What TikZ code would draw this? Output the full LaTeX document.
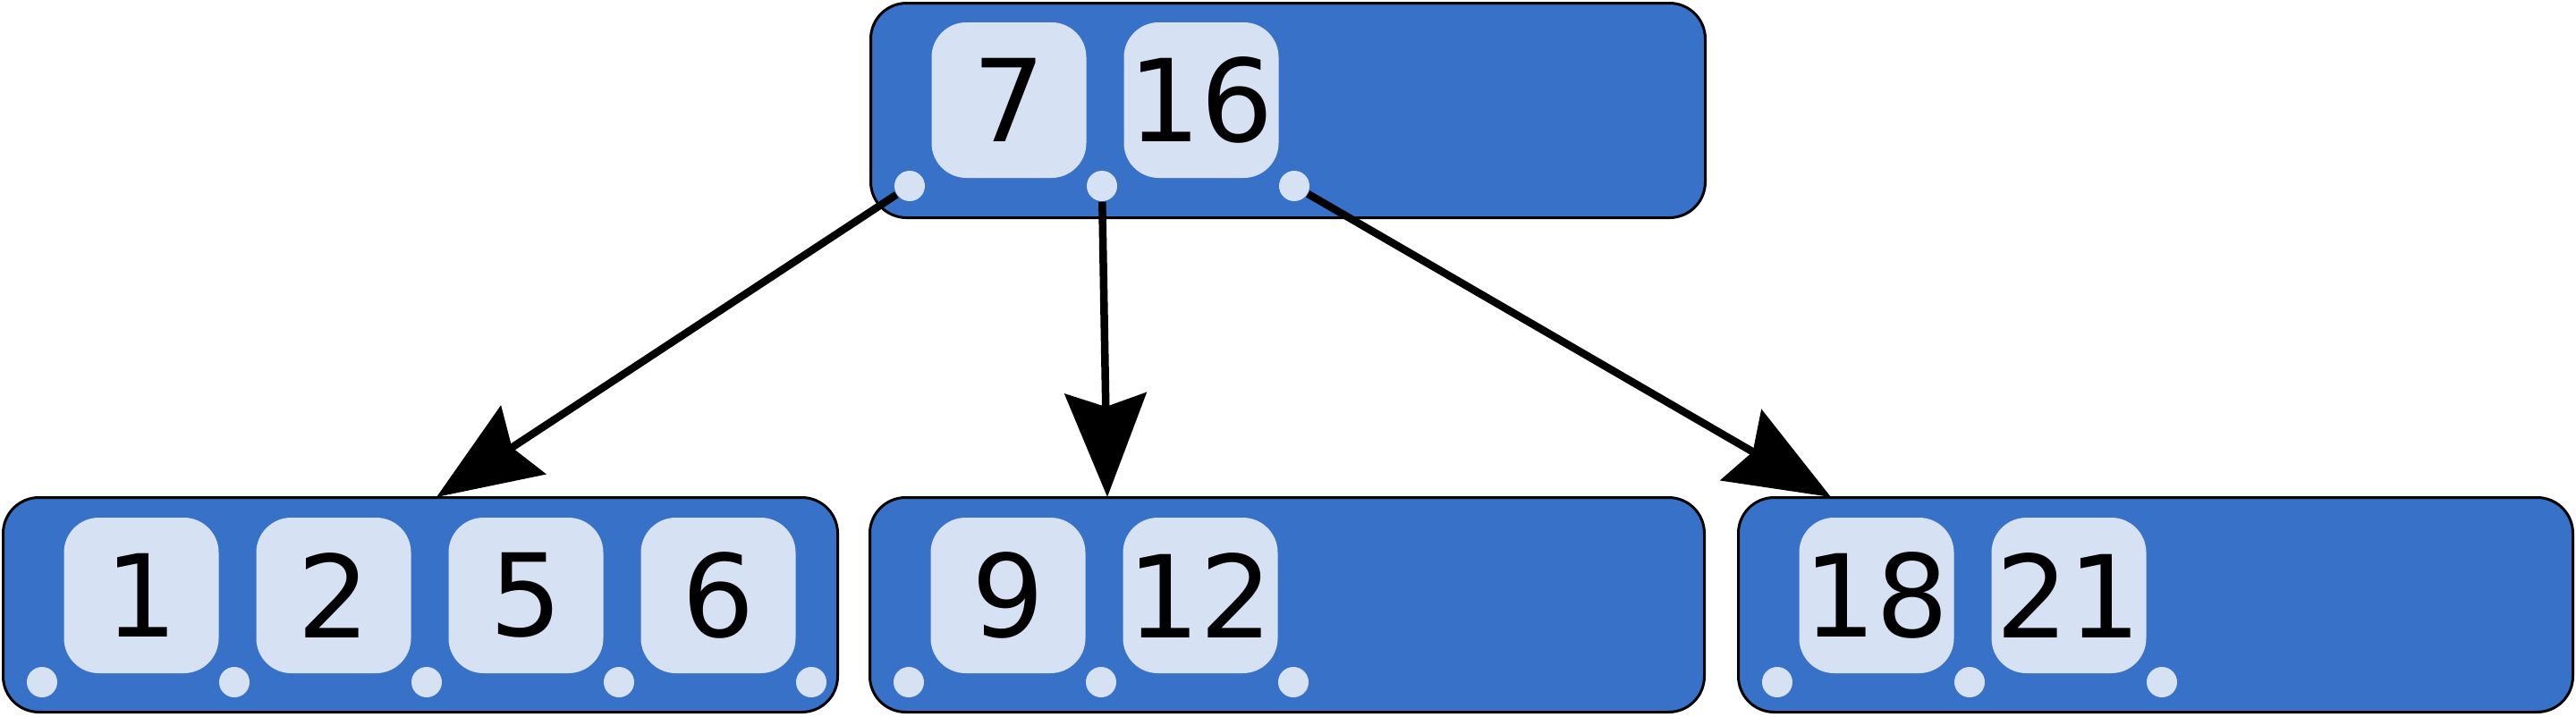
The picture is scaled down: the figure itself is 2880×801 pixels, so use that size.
\documentclass[tikz,border=0pt]{standalone}
\usepackage{fontspec}
\setmainfont{DejaVu Sans}
\usepackage{tikz}
\usetikzlibrary{arrows.meta}

\definecolor{nodeblue}{RGB}{56,114,200}
\definecolor{keyfill}{RGB}{214,225,243}

\tikzset{
  bnode/.style={draw=black, line width=0.3mm, fill=nodeblue, rounded corners=4mm,
                minimum width=93.3mm, minimum height=24mm, inner sep=0pt},
  keybox/.style={fill=keyfill, rounded corners=3.9mm, minimum width=17.3mm,
                 minimum height=17.4mm, inner sep=0pt,
                 font=\fontsize{36.4pt}{40pt}\selectfont},
  ptr/.style={circle, fill=keyfill, minimum size=3.4mm, inner sep=0pt},
  link/.style={-{Stealth[length=11.6mm, width=9.1mm, inset=1.5mm]}, line width=0.85mm}
}

\begin{document}
\begin{tikzpicture}[x=0.1mm, y=-0.1mm]
\useasboundingbox (0,0) rectangle (2880,801);

%% tree nodes
\node[bnode] (root) at (1440,123.5) {};   %% 7 16
\node[bnode] (leafA) at (470,676.5) {};   %% 1 2 5 6
\node[bnode] (leafB) at (1439,676.5) {};  %% 9 12
\node[bnode] (leafC) at (2410,676.5) {};  %% 18 21

%% keys
\node[keybox] (k7) at (1128,112) {7};
\node[keybox] (k16) at (1343,112) {16};
\node[keybox] (k1) at (158,666) {1};
\node[keybox] (k2) at (373,666) {2};
\node[keybox] (k5) at (588,666) {5};
\node[keybox] (k6) at (803,666) {6};
\node[keybox] (k9) at (1127,666) {9};
\node[keybox] (k12) at (1342,666) {12};
\node[keybox] (k18) at (2098,666) {18};
\node[keybox] (k21) at (2313,666) {21};

%% child pointers
\node[ptr] (r0) at (1017,208) {};
\node[ptr] (r1) at (1232,208) {};
\node[ptr] (r2) at (1447,208) {};
\node[ptr] (a0) at (47,763) {};
\node[ptr] (a1) at (262,763) {};
\node[ptr] (a2) at (477,763) {};
\node[ptr] (a3) at (692,763) {};
\node[ptr] (a4) at (907,763) {};
\node[ptr] (b0) at (1016,763) {};
\node[ptr] (b1) at (1231,763) {};
\node[ptr] (b2) at (1446,763) {};
\node[ptr] (c0) at (1987,763) {};
\node[ptr] (c1) at (2202,763) {};
\node[ptr] (c2) at (2417,763) {};

%% arrow ends
\coordinate (inA) at (488,556);
\coordinate (inB) at (1238,556);
\coordinate (inC) at (2047,556);

%%% edges
\draw[link] (r0) -- (inA);   %% root -> leafA
\draw[link] (r1) -- (inB);   %% root -> leafB
\draw[link] (r2) -- (inC);   %% root -> leafC
\end{tikzpicture}
\end{document}
